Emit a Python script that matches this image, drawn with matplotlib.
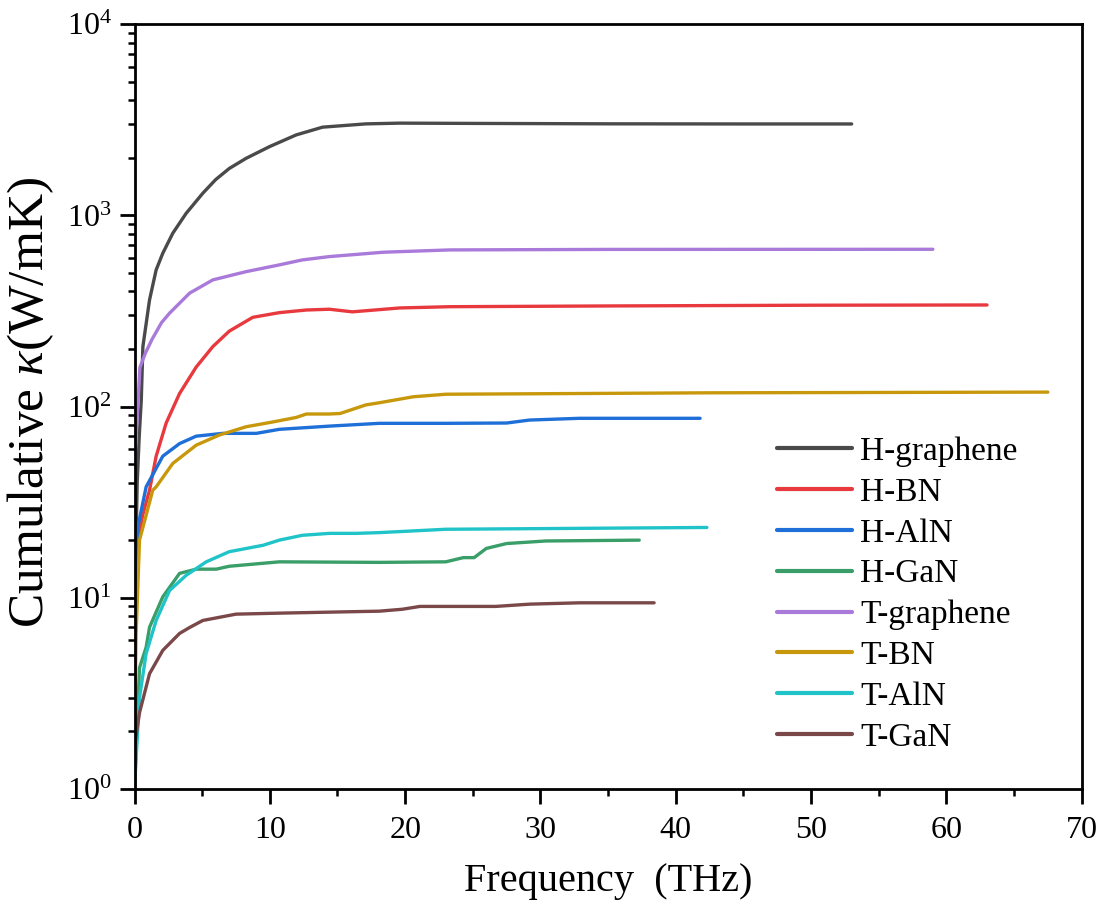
import matplotlib
matplotlib.use("Agg")
import matplotlib.pyplot as plt
from matplotlib.ticker import LogLocator, MultipleLocator, NullFormatter

plt.rcParams['font.family'] = ['Liberation Serif', 'DejaVu Serif']
plt.rcParams['mathtext.fontset'] = 'custom'
plt.rcParams['mathtext.rm'] = 'Liberation Serif'
plt.rcParams['mathtext.it'] = 'Liberation Serif:italic'

labels = ["H-graphene", "H-BN", "H-AlN", "H-GaN", "T-graphene", "T-BN", "T-AlN", "T-GaN"]
colors = ["#4a4a4a", "#e8393e", "#1f6fd8", "#3a9e68", "#a97ad9", "#c8980c", "#20c4c8", "#7a4848"]

f_hgraphene = [0, 0.2, 0.35, 0.5, 0.62, 1.11, 1.6, 2.09, 2.83, 3.82, 5.05, 6.0, 7.0, 8.25, 9.98,
               11.95, 13.9, 17.1, 19.6, 25, 35, 45, 53]
k_hgraphene = [8, 40, 70, 108, 206, 361, 519, 634, 807, 1026, 1307, 1540, 1760, 1990, 2291,
               2638, 2896, 3013, 3040, 3030, 3015, 3010, 3010]

f_hbn = [0, 0.2, 0.6, 1.11, 1.6, 2.34, 3.33, 4.56, 5.79, 7.0, 8.74, 10.7, 12.7, 14.4, 16.1,
         19.6, 23.3, 35, 50, 63]
k_hbn = [5, 18.5, 27, 36.5, 55, 82, 117, 161, 206, 248, 293, 310, 320, 323, 313,
         328, 333, 336, 339, 340]

f_haln = [0, 0.25, 0.86, 2.09, 3.33, 4.56, 6.53, 9.0, 10.7, 14.4, 18.1, 23.0, 27.5, 29.2,
          32.9, 41.8]
k_haln = [6.8, 23.5, 38, 55, 64, 70, 72.4, 72.4, 76, 79, 81.7, 81.7, 82, 85,
          86.8, 86.8]

f_hgan = [0, 0.37, 0.86, 1.11, 2.09, 3.33, 4.56, 6.04, 7.0, 10.7, 18.1, 23.0, 24.3, 25.1,
          26.0, 27.5, 30.4, 37.3]
k_hgan = [1.0, 4.3, 5.5, 7.0, 10.1, 13.4, 14.1, 14.1, 14.6, 15.4, 15.3, 15.4, 16.2, 16.2,
          18.1, 19.2, 19.8, 20.0]

f_tgraphene = [0, 0.12, 0.4, 0.8, 1.3, 2.0, 2.59, 4.07, 5.79, 8.25, 10.7, 12.4, 14.4, 18.4,
               23.3, 35, 59]
k_tgraphene = [46.5, 70, 160, 190, 225, 275, 308, 392, 460, 508, 551, 585, 609, 642,
               660, 664, 665]

f_tbn = [0, 0.12, 0.37, 1.35, 1.6, 2.83, 4.56, 6.28, 8.25, 10.2, 11.95, 12.7, 14.4, 15.2,
         17.1, 18.1, 20.6, 23.0, 42.5, 67.5]
k_tbn = [1.95, 6.5, 20, 36.5, 38, 50.4, 62.8, 71, 78.4, 83, 87.7, 91.4, 91.4, 92,
         102, 104.7, 112.5, 116, 118, 119]

f_taln = [0, 0.37, 0.86, 1.6, 2.59, 3.82, 5.3, 7.0, 9.5, 10.7, 12.4, 14.4, 16.4, 18.1,
          23.0, 42.3]
k_taln = [1.02, 3.0, 5.1, 7.6, 10.9, 13.1, 15.4, 17.4, 18.8, 20, 21.2, 21.7, 21.7, 21.9,
          22.8, 23.3]

f_tgan = [0, 0.37, 1.11, 2.09, 3.33, 4.1, 5.05, 7.5, 10.7, 14.4, 18.1, 19.8, 21.1, 26.7,
          29.2, 32.9, 38.4]
k_tgan = [1.66, 2.5, 4.0, 5.3, 6.5, 7.0, 7.6, 8.2, 8.3, 8.4, 8.5, 8.7, 9.0, 9.0,
          9.25, 9.4, 9.4]

freqs = [f_hgraphene, f_hbn, f_haln, f_hgan, f_tgraphene, f_tbn, f_taln, f_tgan]
kappas = [k_hgraphene, k_hbn, k_haln, k_hgan, k_tgraphene, k_tbn, k_taln, k_tgan]

W, H = 1107, 916
fig = plt.figure(figsize=(W / 100, H / 100), dpi=100)
x0, x1, y0, y1 = 134.5, 1081.7, 24.3, 788.8
ax = fig.add_axes([x0 / W, 1 - y1 / H, (x1 - x0) / W, (y1 - y0) / H])

for f, k, lab, c in zip(freqs, kappas, labels, colors):
    ax.plot(f, k, color=c, lw=2.4, label=lab, solid_capstyle='round', solid_joinstyle='round')

ax.set_yscale('log')
ax.set_xlim(0, 70)
ax.set_ylim(1, 1e4)
ax.xaxis.set_major_locator(MultipleLocator(10))
ax.xaxis.set_minor_locator(MultipleLocator(5))
ax.yaxis.set_minor_locator(LogLocator(base=10, subs=range(2, 10)))
ax.yaxis.set_minor_formatter(NullFormatter())

for s in ax.spines.values():
    s.set_linewidth(2.0)
ax.tick_params(which='major', direction='out', length=10.5, width=2.0, labelsize=23,
               top=False, right=False)
ax.tick_params(which='minor', direction='out', length=5, width=1.8, top=False, right=False)
ax.tick_params(axis='x', pad=9)
ax.tick_params(axis='y', pad=6)

ax.set_xlabel("Frequency  (THz)", fontsize=29, labelpad=13)
ax.set_ylabel(r"Cumulative $\kappa$(W/mK)", fontsize=37)
ax.yaxis.set_label_coords(-0.083, 0.505)

leg = ax.legend(loc='upper left', bbox_to_anchor=(0.678, 0.461), frameon=False,
                fontsize=24, handlelength=2.25, handletextpad=0.25, labelspacing=0.31,
                borderpad=0, borderaxespad=0)
for l in leg.get_lines():
    l.set_linewidth(3)

fig.savefig("out.png", dpi=100)
